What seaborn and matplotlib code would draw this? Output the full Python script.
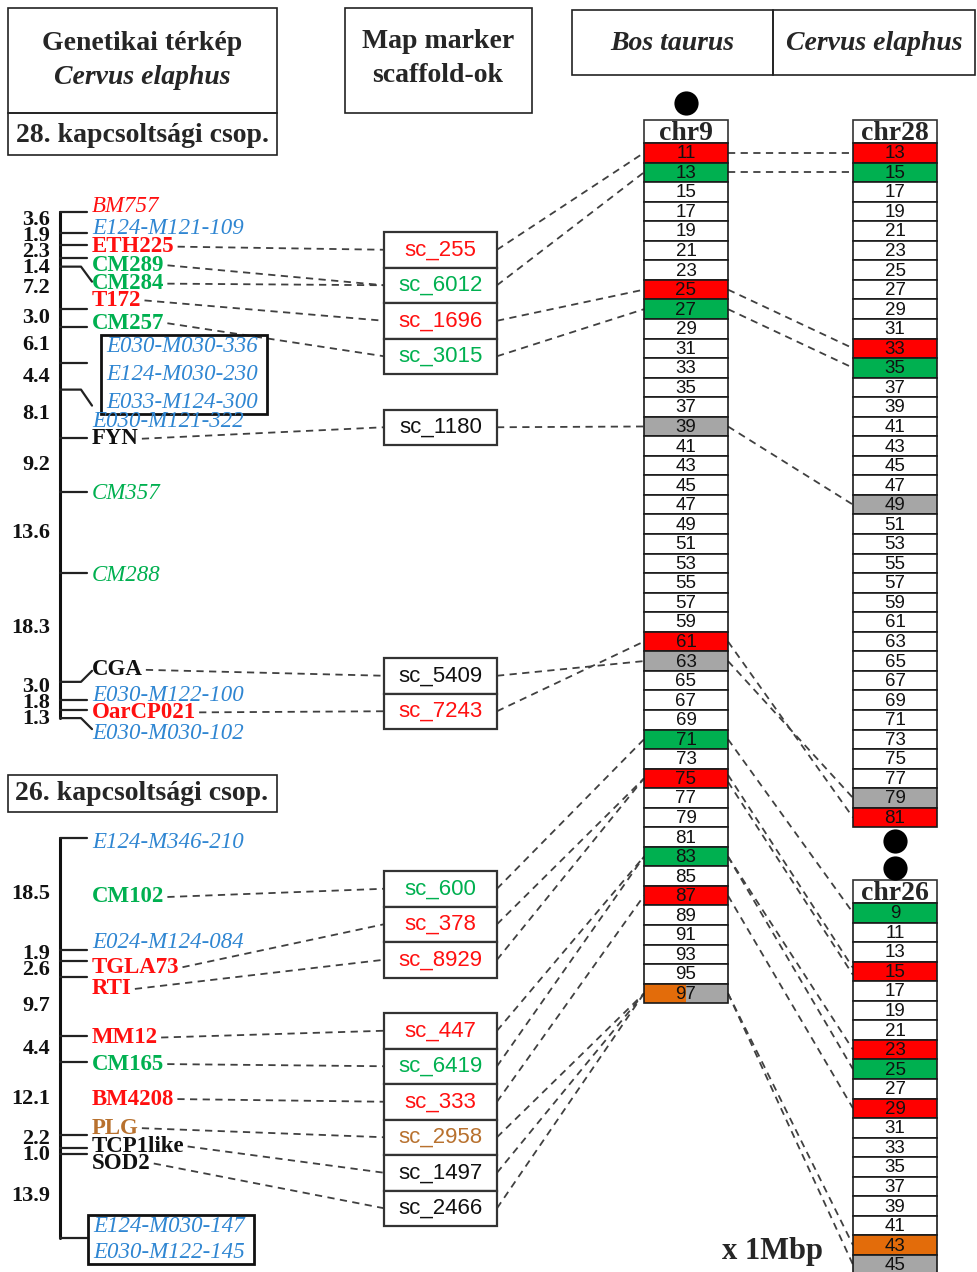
import numpy as np
import pandas as pd
import matplotlib
matplotlib.use('Agg')
import matplotlib.pyplot as plt
from matplotlib.patches import Rectangle
import seaborn as sns

# ---------------- data ----------------
# genetic map, linkage group 28 (distances in cM between neighbouring ticks)
lg28_dist = [3.6, 1.9, 2.3, 1.4, 7.2, 3.0, 6.1, 4.4, 8.1, 9.2, 13.6, 18.3, 3.0, 1.8, 1.3]
lg28_markers = ['BM757', 'E124-M121-109', 'ETH225', 'CM289', 'CM284', 'T172', 'CM257',
                'E030-M030-336', 'E124-M030-230', 'E033-M124-300', 'E030-M121-322', 'FYN',
                'CM357', 'CM288', 'CGA', 'E030-M122-100', 'OarCP021', 'E030-M030-102']
lg28_tick = [0, 1, 2, 3, 4, 5, 6, 7, 7, 8, 9, 9, 10, 11, 12, 13, 14, 15]
lg28_color = ['red', 'blue', 'red', 'green', 'green', 'red', 'green', 'blue', 'blue', 'blue',
              'blue', 'black', 'green', 'green', 'black', 'blue', 'red', 'blue']
lg28_boxed = ['E030-M030-336', 'E124-M030-230', 'E033-M124-300']

# linkage group 26
lg26_dist = [18.5, 1.9, 2.6, 9.7, 4.4, 12.1, 2.2, 1.0, 13.9]
lg26_markers = ['E124-M346-210', 'CM102', 'E024-M124-084', 'TGLA73', 'RTI', 'MM12', 'CM165',
                'BM4208', 'PLG', 'TCP1like', 'SOD2', 'E124-M030-147', 'E030-M122-145']
lg26_tick = [0, 0, 1, 2, 3, 4, 5, 5, 6, 7, 8, 9, 9]
lg26_color = ['blue', 'green', 'blue', 'red', 'red', 'red', 'green', 'red', 'brown', 'black',
              'black', 'blue', 'blue']
lg26_boxed = ['E124-M030-147', 'E030-M122-145']
italic_markers = ['BM757', 'CM357', 'CM288']  # plus all E...-M... AFLP markers

# map marker scaffolds
scaffolds = ['sc_255', 'sc_6012', 'sc_1696', 'sc_3015', 'sc_1180', 'sc_5409', 'sc_7243',
             'sc_600', 'sc_378', 'sc_8929', 'sc_447', 'sc_6419', 'sc_333', 'sc_2958',
             'sc_1497', 'sc_2466']
scaffold_color = ['red', 'green', 'red', 'green', 'black', 'black', 'red', 'green', 'red',
                  'red', 'red', 'green', 'red', 'brown', 'black', 'black']

# chromosome bands (Mbp)
chr9_bands = [11, 13, 15, 17, 19, 21, 23, 25, 27, 29, 31, 33, 35, 37, 39, 41, 43, 45, 47, 49,
              51, 53, 55, 57, 59, 61, 63, 65, 67, 69, 71, 73, 75, 77, 79, 81, 83, 85, 87, 89,
              91, 93, 95, 97]
chr28_bands = [13, 15, 17, 19, 21, 23, 25, 27, 29, 31, 33, 35, 37, 39, 41, 43, 45, 47, 49, 51,
               53, 55, 57, 59, 61, 63, 65, 67, 69, 71, 73, 75, 77, 79, 81]
chr26_bands = [9, 11, 13, 15, 17, 19, 21, 23, 25, 27, 29, 31, 33, 35, 37, 39, 41, 43, 45]
chr9_hl = {11: 'red', 13: 'green', 25: 'red', 27: 'green', 39: 'gray', 61: 'red', 63: 'gray',
           71: 'green', 75: 'red', 83: 'green', 87: 'red', 97: 'split'}
chr28_hl = {13: 'red', 15: 'green', 33: 'red', 35: 'green', 49: 'gray', 79: 'gray', 81: 'red'}
chr26_hl = {9: 'green', 15: 'red', 23: 'red', 25: 'green', 29: 'red', 43: 'orange', 45: 'gray'}

# links
marker_to_scaffold = [('ETH225', 'sc_255'), ('CM289', 'sc_6012'), ('CM284', 'sc_6012'),
                      ('T172', 'sc_1696'), ('CM257', 'sc_3015'), ('FYN', 'sc_1180'),
                      ('CGA', 'sc_5409'), ('OarCP021', 'sc_7243'), ('CM102', 'sc_600'),
                      ('TGLA73', 'sc_378'), ('RTI', 'sc_8929'), ('MM12', 'sc_447'),
                      ('CM165', 'sc_6419'), ('BM4208', 'sc_333'), ('PLG', 'sc_2958'),
                      ('TCP1like', 'sc_1497'), ('SOD2', 'sc_2466')]
scaffold_to_chr9 = [('sc_255', 11), ('sc_6012', 13), ('sc_1696', 25), ('sc_3015', 27),
                    ('sc_1180', 39), ('sc_5409', 63), ('sc_7243', 61), ('sc_600', 71),
                    ('sc_378', 75), ('sc_8929', 75), ('sc_447', 83), ('sc_6419', 83),
                    ('sc_333', 87), ('sc_2958', 97), ('sc_1497', 97), ('sc_2466', 97)]
chr9_to_chr28 = [(11, 13), (13, 15), (25, 33), (27, 35), (39, 49), (61, 81), (63, 79)]
chr9_to_chr26 = [(71, 9), (75, 15), (75, 15), (83, 23), (83, 25), (87, 29), (97, 43), (97, 45)]

# ---------------- layout ----------------
lg28_dy = [-5, -5, 2, 7, 17, -9, -4, -17, 11, 13, -16, 1, 1, 2, -12, -4, 2, 15]
lg28_bend = [0, 0, 0, 0, 15, 0, 0, 0, 16, 0, 0, 0, -11, 0, 0, 11]
lg26_dy = [5, 59, -7, 6, 12, 2, 2, 37, -7, -2, 9, -12, 14]
lg26_bend = [0] * 10
scaffold_slot = [0, 1, 2, 3, 5, 12, 13, 18, 19, 20, 22, 23, 24, 25, 26, 27]

W, H = 977, 1272
BAND_H = 19.55
CHR_W = 84
SC_X0, SC_X1, SC_Y0, SC_H = 384, 497, 232, 35.5

palette = {'red': '#FF1010', 'green': '#00B050', 'blue': '#2F86D2', 'black': '#111111',
           'brown': '#B8712E', 'gray': '#A6A6A6', 'orange': '#E36C0A', 'white': 'white'}
band_fill = {'red': '#FF0000', 'green': '#00B050', 'gray': '#A6A6A6', 'orange': '#E36C0A'}
DASH = dict(color='#404040', lw=1.3, ls=(0, (4, 3)), zorder=1)

sns.set_theme(style='white')
plt.rcParams['font.family'] = ['Liberation Serif', 'DejaVu Serif']

fig = plt.figure(figsize=(W / 100, H / 100), dpi=100)
ax = fig.add_axes([0, 0, 1, 1])
ax.set_xlim(0, W)
ax.set_ylim(H, 0)
ax.axis('off')


def box(x0, y0, x1, y1, lw=1.2, ec='#222222', fc='none', z=2):
    ax.add_patch(Rectangle((x0, y0), x1 - x0, y1 - y0, fc=fc, ec=ec, lw=lw, zorder=z))


def spread(vals, gap):
    v = list(vals)
    for _ in range(60):
        for i in range(len(v) - 1):
            d = v[i + 1] - v[i]
            if d < gap:
                s = (gap - d) / 2
                v[i] -= s
                v[i + 1] += s
    return v


# ---------------- headers ----------------
HF = 20
box(8, 8, 277, 113)
box(8, 113, 277, 155)
ax.text(142, 44, 'Genetikai térkép', ha='center', va='center', fontsize=HF, fontweight='bold')
ax.text(142, 78, 'Cervus elaphus', ha='center', va='center', fontsize=HF, fontweight='bold',
        style='italic')
ax.text(142, 135, '28. kapcsoltsági csop.', ha='center', va='center', fontsize=HF,
        fontweight='bold')
box(345, 8, 532, 113)
ax.text(438, 42, 'Map marker', ha='center', va='center', fontsize=HF, fontweight='bold')
ax.text(438, 76, 'scaffold-ok', ha='center', va='center', fontsize=HF, fontweight='bold')
box(572, 10, 773, 75)
box(773, 10, 975, 75)
ax.text(672, 43, 'Bos taurus', ha='center', va='center', fontsize=HF, style='italic',
        fontweight='bold')
ax.text(874, 43, 'Cervus elaphus', ha='center', va='center', fontsize=HF, style='italic',
        fontweight='bold')
box(8, 775, 277, 812)
ax.text(142, 793, '26. kapcsoltsági csop.', ha='center', va='center', fontsize=HF,
        fontweight='bold')

# ---------------- genetic maps ----------------
label_obj = {}
label_y = {}


def draw_group(dist, top, scale, markers, ticks, colors, dy, bend, boxed, box_x):
    tick_y = top + scale * np.concatenate([[0], np.cumsum(dist)])
    ax.plot([60, 60], [tick_y[0], tick_y[-1]], color='#111111', lw=2.2, zorder=3)
    for y, b in zip(tick_y, bend):
        if b == 0:
            ax.plot([60, 87], [y, y], color='#222222', lw=1.6, zorder=3)
        else:
            ax.plot([60, 81, 92], [y, y, y + b], color='#222222', lw=1.6, zorder=3)
    mids = spread((tick_y[:-1] + tick_y[1:]) / 2, 16)
    for m, d in zip(mids, dist):
        ax.text(50, m, f'{d:.1f}', ha='right', va='center', fontsize=16, fontweight='bold',
                color='#111111')
    for name, ti, c, d in zip(markers, ticks, colors, dy):
        aflp = name.startswith('E0') or name.startswith('E1')
        it = aflp or name in italic_markers
        x = box_x if name in boxed else 92
        y = tick_y[ti] + d
        t = ax.text(x, y, name, ha='left', va='center', fontsize=16.5, color=palette[c],
                    style='italic' if it else 'normal',
                    fontweight='normal' if it else 'bold', zorder=4)
        label_obj[name] = t
        label_y[name] = y


draw_group(lg28_dist, 212, 5.94, lg28_markers, lg28_tick, lg28_color, lg28_dy, lg28_bend,
           lg28_boxed, 106)
draw_group(lg26_dist, 838, 6.04, lg26_markers, lg26_tick, lg26_color, lg26_dy, lg26_bend,
           lg26_boxed, 93)

# ---------------- scaffolds ----------------
sc_y = {}
for name, c, s in zip(scaffolds, scaffold_color, scaffold_slot):
    y0 = SC_Y0 + s * SC_H
    box(SC_X0, y0, SC_X1, y0 + SC_H, lw=1.6, ec='#333333', fc='white')
    ax.text((SC_X0 + SC_X1) / 2, y0 + SC_H / 2, name, ha='center', va='center', fontsize=16,
            color=palette[c], family='Liberation Sans', zorder=4)
    sc_y[name] = y0 + SC_H / 2

# ---------------- chromosomes ----------------
CHR9_X, CHR9_TOP = 644, 143
CHR28_X, CHR28_TOP = 853, 143
CHR26_X, CHR26_TOP = 853, 903


def draw_chrom(x0, top, bands, hl, name):
    ax.add_patch(Rectangle((x0, top - 23), CHR_W, 23, fc='white', ec='#333333', lw=1.2,
                           zorder=2))
    ax.text(x0 + CHR_W / 2, top - 10, name, ha='center', va='center', fontsize=20,
            fontweight='bold', zorder=4)
    pos = {}
    for i, b in enumerate(bands):
        y = top + i * BAND_H
        key = hl.get(b, 'white')
        if key == 'split':
            ax.add_patch(Rectangle((x0, y), CHR_W / 2, BAND_H, fc=band_fill['orange'],
                                   ec='none', zorder=2))
            ax.add_patch(Rectangle((x0 + CHR_W / 2, y), CHR_W / 2, BAND_H,
                                   fc=band_fill['gray'], ec='none', zorder=2))
            ax.add_patch(Rectangle((x0, y), CHR_W, BAND_H, fc='none', ec='#1a1a1a', lw=1.2,
                                   zorder=2))
        else:
            ax.add_patch(Rectangle((x0, y), CHR_W, BAND_H, fc=band_fill.get(key, 'white'),
                                   ec='#1a1a1a', lw=1.2, zorder=2))
        ax.text(x0 + CHR_W / 2, y + BAND_H / 2 + 1, str(b), ha='center', va='center',
                fontsize=13.5, family='Liberation Sans', color='#111111', zorder=4)
        pos[b] = y + BAND_H / 2
    return pos


chr9_y = draw_chrom(CHR9_X, CHR9_TOP, chr9_bands, chr9_hl, 'chr9')
chr28_y = draw_chrom(CHR28_X, CHR28_TOP, chr28_bands, chr28_hl, 'chr28')
chr26_y = draw_chrom(CHR26_X, CHR26_TOP, chr26_bands, chr26_hl, 'chr26')

# centromeres
cen = pd.DataFrame({
    'x': [CHR9_X + CHR_W / 2, CHR28_X + CHR_W / 2, CHR26_X + CHR_W / 2],
    'y': [CHR9_TOP - 23 - 17, CHR28_TOP + len(chr28_bands) * BAND_H + 14, CHR26_TOP - 23 - 12],
})
sns.scatterplot(data=cen, x='x', y='y', ax=ax, s=260, color='black', edgecolor='black',
                legend=False, zorder=5)
ax.set_xlim(0, W)
ax.set_ylim(H, 0)
ax.axis('off')

ax.text(772, 1251, 'x 1Mbp', ha='center', va='center', fontsize=22, fontweight='bold')

# ---------------- links ----------------
for s, b in scaffold_to_chr9:
    ax.plot([SC_X1, CHR9_X], [sc_y[s], chr9_y[b]], **DASH)


def offsets(pairs):
    seen = {}
    out = []
    for p in pairs:
        n = pairs.count(p)
        k = seen.get(p, 0)
        seen[p] = k + 1
        out.append((k - (n - 1) / 2) * 7)
    return out


for (a, b), o in zip(chr9_to_chr28, offsets(chr9_to_chr28)):
    ax.plot([CHR9_X + CHR_W, CHR28_X], [chr9_y[a] + o, chr28_y[b] + o], **DASH)
for (a, b), o in zip(chr9_to_chr26, offsets(chr9_to_chr26)):
    ax.plot([CHR9_X + CHR_W, CHR26_X], [chr9_y[a] + o, chr26_y[b] + o], **DASH)

# label extents are needed for the marker links and the AFLP boxes
fig.canvas.draw()
inv = ax.transData.inverted()


def extent(name):
    bb = label_obj[name].get_window_extent()
    (xa, ya), (xb, yb) = inv.transform(bb.get_points())
    return min(xa, xb), min(ya, yb), max(xa, xb), max(ya, yb)


for m, s in marker_to_scaffold:
    x0, y0, x1, y1 = extent(m)
    ax.plot([x1 + 3, SC_X0], [label_y[m], sc_y[s]], **DASH)

for group in (lg28_boxed, lg26_boxed):
    ext = np.array([extent(n) for n in group])
    box(ext[:, 0].min() - 5, ext[:, 1].min() - 1, ext[:, 2].max() + 9, ext[:, 3].max() + 1,
        lw=2.0, ec='#111111', z=3)

fig.savefig('out.png', dpi=100)
